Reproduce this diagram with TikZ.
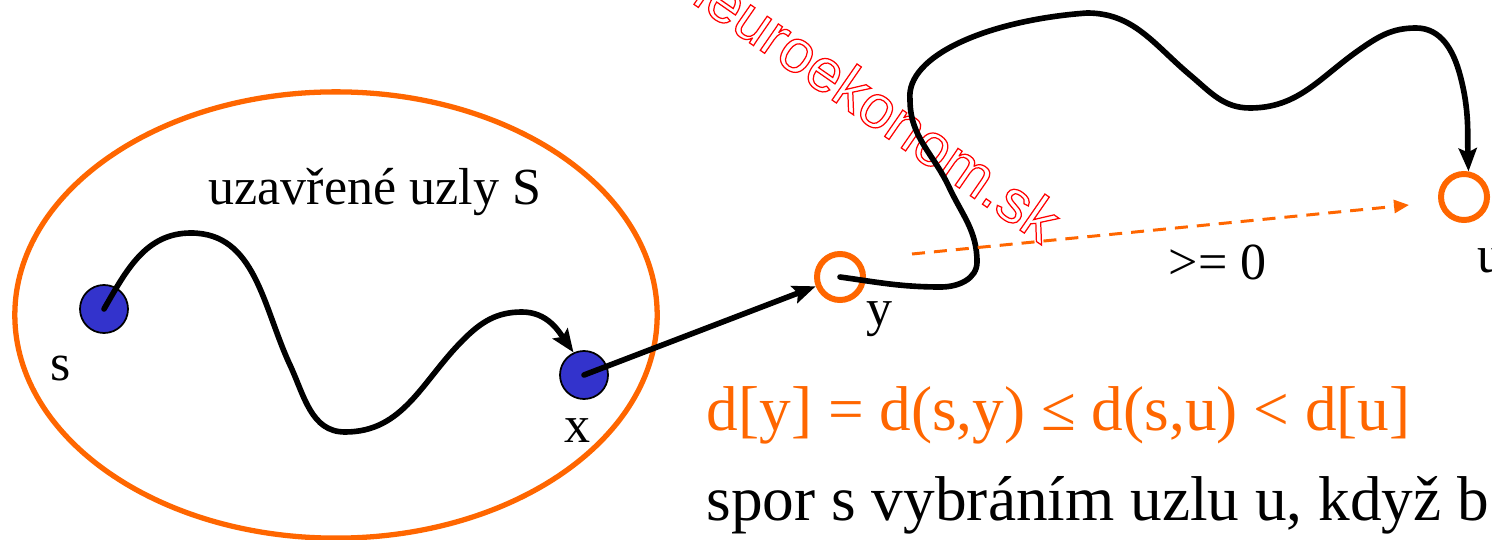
\documentclass[tikz,border=0pt]{standalone}
\usepackage{fontspec}
\setmainfont{Liberation Serif}
\newfontfamily\markfont{Liberation Sans}
\usetikzlibrary{arrows.meta, positioning, shapes.geometric}
\definecolor{SetOrange}{RGB}{255, 102, 0}
\definecolor{NodeBlue}{RGB}{51, 51, 204}
\newcommand{\hollow}[1]{\special{pdf:literal direct 1 Tr 0.35 w}#1\special{pdf:literal direct 0 Tr}}

\begin{document}
\begin{tikzpicture}[
    x=0.01cm, y=-0.01cm,
    setnode/.style={circle, draw=black, line width=0.5pt, fill=NodeBlue, minimum size=0.48cm, inner sep=0pt},
    ringnode/.style={circle, draw=SetOrange, line width=1.7pt, fill=white, minimum size=0.46cm, inner sep=0pt},
    lbl/.style={font=\fontsize{14.8}{17}\selectfont, inner sep=0pt, anchor=base west},
    big/.style={font=\fontsize{18}{21}\selectfont, inner sep=0pt, anchor=base west},
    walk/.style={line width=1.6pt, line cap=round, -{Stealth[length=0.23cm, width=0.18cm, inset=0.04cm]}}
  ]
  \useasboundingbox (0,0) rectangle (1492,540);

  % watermark
  \node[rotate=-34.7, text=red, font=\markfont\fontsize{17.2}{18}\selectfont, inner sep=0pt] (mark) at (870,100) {\hollow{neuroekonom.sk}};

  % closed set
  \node[ellipse, draw=SetOrange, line width=1.5pt, minimum width=6.42cm, minimum height=4.46cm] (S) at (336,315) {};
  \node[lbl] (setlbl) at (208,205) {uzavřené uzly S};

  \node[setnode] (s) at (104,309) {};
  \node[setnode] (x) at (584,375) {};
  \node[ringnode] (y) at (840,277) {};
  \node[ringnode] (u) at (1464,197) {};

  \node[lbl] (slbl) at (50,380) {s};
  \node[lbl] (xlbl) at (564,442) {x};
  \node[lbl] (ylbl) at (866,325) {y};
  \node[lbl] (ulbl) at (1477,272) {u};
  \node[lbl] (zero) at (1168,280) {>= 0};

  % paths
  \draw[walk] (s.center) to[out=60,in=180] (191,233) to[out=0,in=115] (290,365)
    to[out=-65,in=180] (345,432) to[out=0,in=225] (463,340)
    to[out=45,in=180] (522,312) to[out=0,in=125] (x.115);
  \draw[walk] (x.center) -- (y);
  \draw[walk] (y.center) to[out=-8,in=180] (941,287) to[out=0,in=-90] (977,262)
    to[out=90,in=-65] (949,187) to[out=115,in=-90] (910,100)
    .. controls (905,55) and (990,20) .. (1087,13)
    to[out=0,in=140] (1190,75) to[out=-40,in=180] (1250,108)
    to[out=0,in=-145] (1359,50) to[out=35,in=180] (1416,28)
    to[out=0,in=105] (1460,75) to[out=-75,in=92] (u.80);

  \coordinate (dfrom) at (912,254);
  \coordinate (dto) at (1409,205);
  \draw[SetOrange, line width=0.85pt, dash pattern=on 0.13cm off 0.09cm, -{Triangle[length=0.15cm, width=0.13cm]}] (dfrom) -- (dto);

  \node[big, text=SetOrange] (ineq) at (706,430) {d[y] = d(s,y) ≤ d(s,u) < d[u]};
  \node[big] (spor) at (706,520) {spor s vybráním uzlu u, když b};
\end{tikzpicture}
\end{document}
